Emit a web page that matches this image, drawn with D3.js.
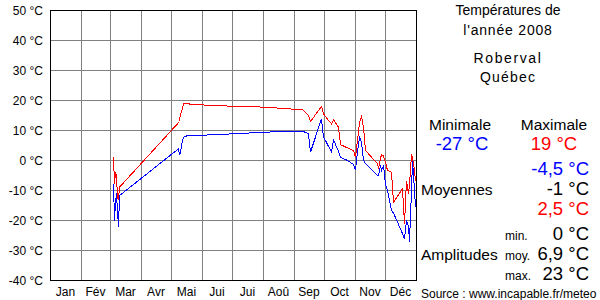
<!DOCTYPE html>
<html>
<head>
<meta charset="utf-8">
<script src="https://cdn.jsdelivr.net/npm/d3@7"></script>
<style>
body{margin:0;background:#fff}
svg{display:block;font-family:"Liberation Sans",Arial,sans-serif}
</style>
</head>
<body>
<svg width="600" height="300"></svg>
<script>
// month names + lengths (2008 is a leap year)
const months=["Jan","Fév","Mar","Avr","Mai","Jui","Jui","Aoû","Sep","Oct","Nov","Déc"]
const monthDays=[31,29,31,30,31,30,31,31,30,31,30,31]
const yTicks=[50,40,30,20,10,0,-10,-20,-30,-40]

// day of year (0 = 1 Jan), daily max / min in °C
const days=[63,64,65,66,67,68,69,128,129,130,131,133,137,143,163,183,213,240,242,252,258,260,271,273,276,281,283,288,290,297,303,305,307,309,311,313,315,316,321,327,328,330,331,333,335,337,341,343,352,354,356,358,359,361,362,364,365]
const tmax=[1,-7.7,-3.9,-5,-12.7,-13,-8.9,12.6,13,15.7,16,19,18.9,18.7,18.3,18.1,17.8,17.2,17,17,15,13,18,15.6,14.2,12.2,13.6,11.1,5.3,4.2,3.3,1.1,6.7,12.8,14.7,11.1,3.3,3,1.1,-1.1,-2.8,0.6,2,1.5,-0.6,-3.3,-3.9,-13.9,-9.4,-21.1,-6.7,-11.1,-8,1.7,1,-3.3,-6.7]
const tmin=[-7.7,-20,-13.9,-11,-17,-22,-11.7,3.9,2,2.5,5,7.8,8.3,8.3,8.6,8.9,9.4,9.8,9.8,9.8,8.9,2.8,13.9,7.8,6,2.8,6.9,3,1.1,0,-1.3,-3.3,3,7.8,6.1,0,-1.1,-1.3,-3,-5,-5,-1.7,-3.3,-1.7,-7.8,-10,-16.7,-17.5,-24.4,-26.1,-20,-22,-27,-10,0,-10,-15.6]

const svg=d3.select("svg")
const x=d3.scaleLinear().domain([0,366]).range([50,416])
const y=d3.scaleLinear().domain([-40,50]).range([280,10])
const bounds=[0,...d3.cumsum(monthDays)]

// grid
svg.append("g").selectAll("line").data(yTicks).join("line")
.attr("x1",x(0)).attr("x2",x(366)).attr("y1",d=>y(d)+0.5).attr("y2",d=>y(d)+0.5)
.attr("stroke","#808080")
svg.append("g").selectAll("line").data(bounds.slice(1,-1)).join("line")
.attr("x1",d=>x(d)+0.5).attr("x2",d=>x(d)+0.5).attr("y1",y(50)).attr("y2",y(-40))
.attr("stroke","#808080")
svg.append("rect").attr("x",x(0)+0.5).attr("y",y(50)+0.5).attr("width",x(366)-x(0)).attr("height",y(-40)-y(50))
.attr("fill","none").attr("stroke","#000")

// y labels
svg.append("g").selectAll("text").data(yTicks).join("text")
.attr("x",43).attr("y",d=>y(d)+5).attr("text-anchor","end").attr("font-size",12)
.text(d=>d+" °C")
// month labels
svg.append("g").selectAll("text").data(months).join("text")
.attr("x",(d,i)=>x((bounds[i]+bounds[i+1])/2)).attr("y",296).attr("text-anchor","middle").attr("font-size",12)
.text(d=>d)

// series
const pts=days.map((d,i)=>({d,hi:tmax[i],lo:tmin[i]}))
const line=k=>d3.line().x(p=>x(p.d)+0.5).y(p=>y(p[k])+0.5)(pts)
svg.append("path").attr("d",line("lo")).attr("fill","none").attr("stroke","#0000ff").attr("stroke-width",1).attr("shape-rendering","crispEdges")
svg.append("path").attr("d",line("hi")).attr("fill","none").attr("stroke","#ff0000").attr("stroke-width",1).attr("shape-rendering","crispEdges")

// right panel
const t=(s,xx,yy,o={})=>svg.append("text").attr("x",xx).attr("y",yy)
.attr("font-size",o.fs||14).attr("text-anchor",o.a||"start").attr("fill",o.c||"#000")
.attr("letter-spacing",o.ls||0).text(s)
t("Températures de",508,15,{a:"middle"})
t("l'année 2008",508,35,{a:"middle",ls:0.8})
t("Roberval",508,63,{a:"middle",ls:1.6})
t("Québec",508,82,{a:"middle",ls:1.2})
t("Minimale",460,130,{a:"middle",fs:15.5})
t("Maximale",554,130,{a:"middle",fs:15.5})
t("-27 °C",462,150,{a:"middle",fs:18.5,c:"#0000ff"})
t("19 °C",554,150,{a:"middle",fs:18.5,c:"#ff0000"})
t("-4,5 °C",589,175,{a:"end",fs:18.5,c:"#0000ff"})
t("-1 °C",589,195,{a:"end",fs:18.5})
t("2,5 °C",589,215,{a:"end",fs:18.5,c:"#ff0000"})
t("Moyennes",421,195,{fs:15.5})
t("min.",505,240,{fs:12})
t("moy.",505,260,{fs:12})
t("max.",505,280,{fs:12})
t("0 °C",589,240,{a:"end",fs:18.5})
t("6,9 °C",589,260,{a:"end",fs:18.5})
t("23 °C",589,280,{a:"end",fs:18.5})
t("Amplitudes",421,260,{fs:15.5})
t("Source : www.incapable.fr/meteo",421,298,{fs:12})
</script>
</body>
</html>
